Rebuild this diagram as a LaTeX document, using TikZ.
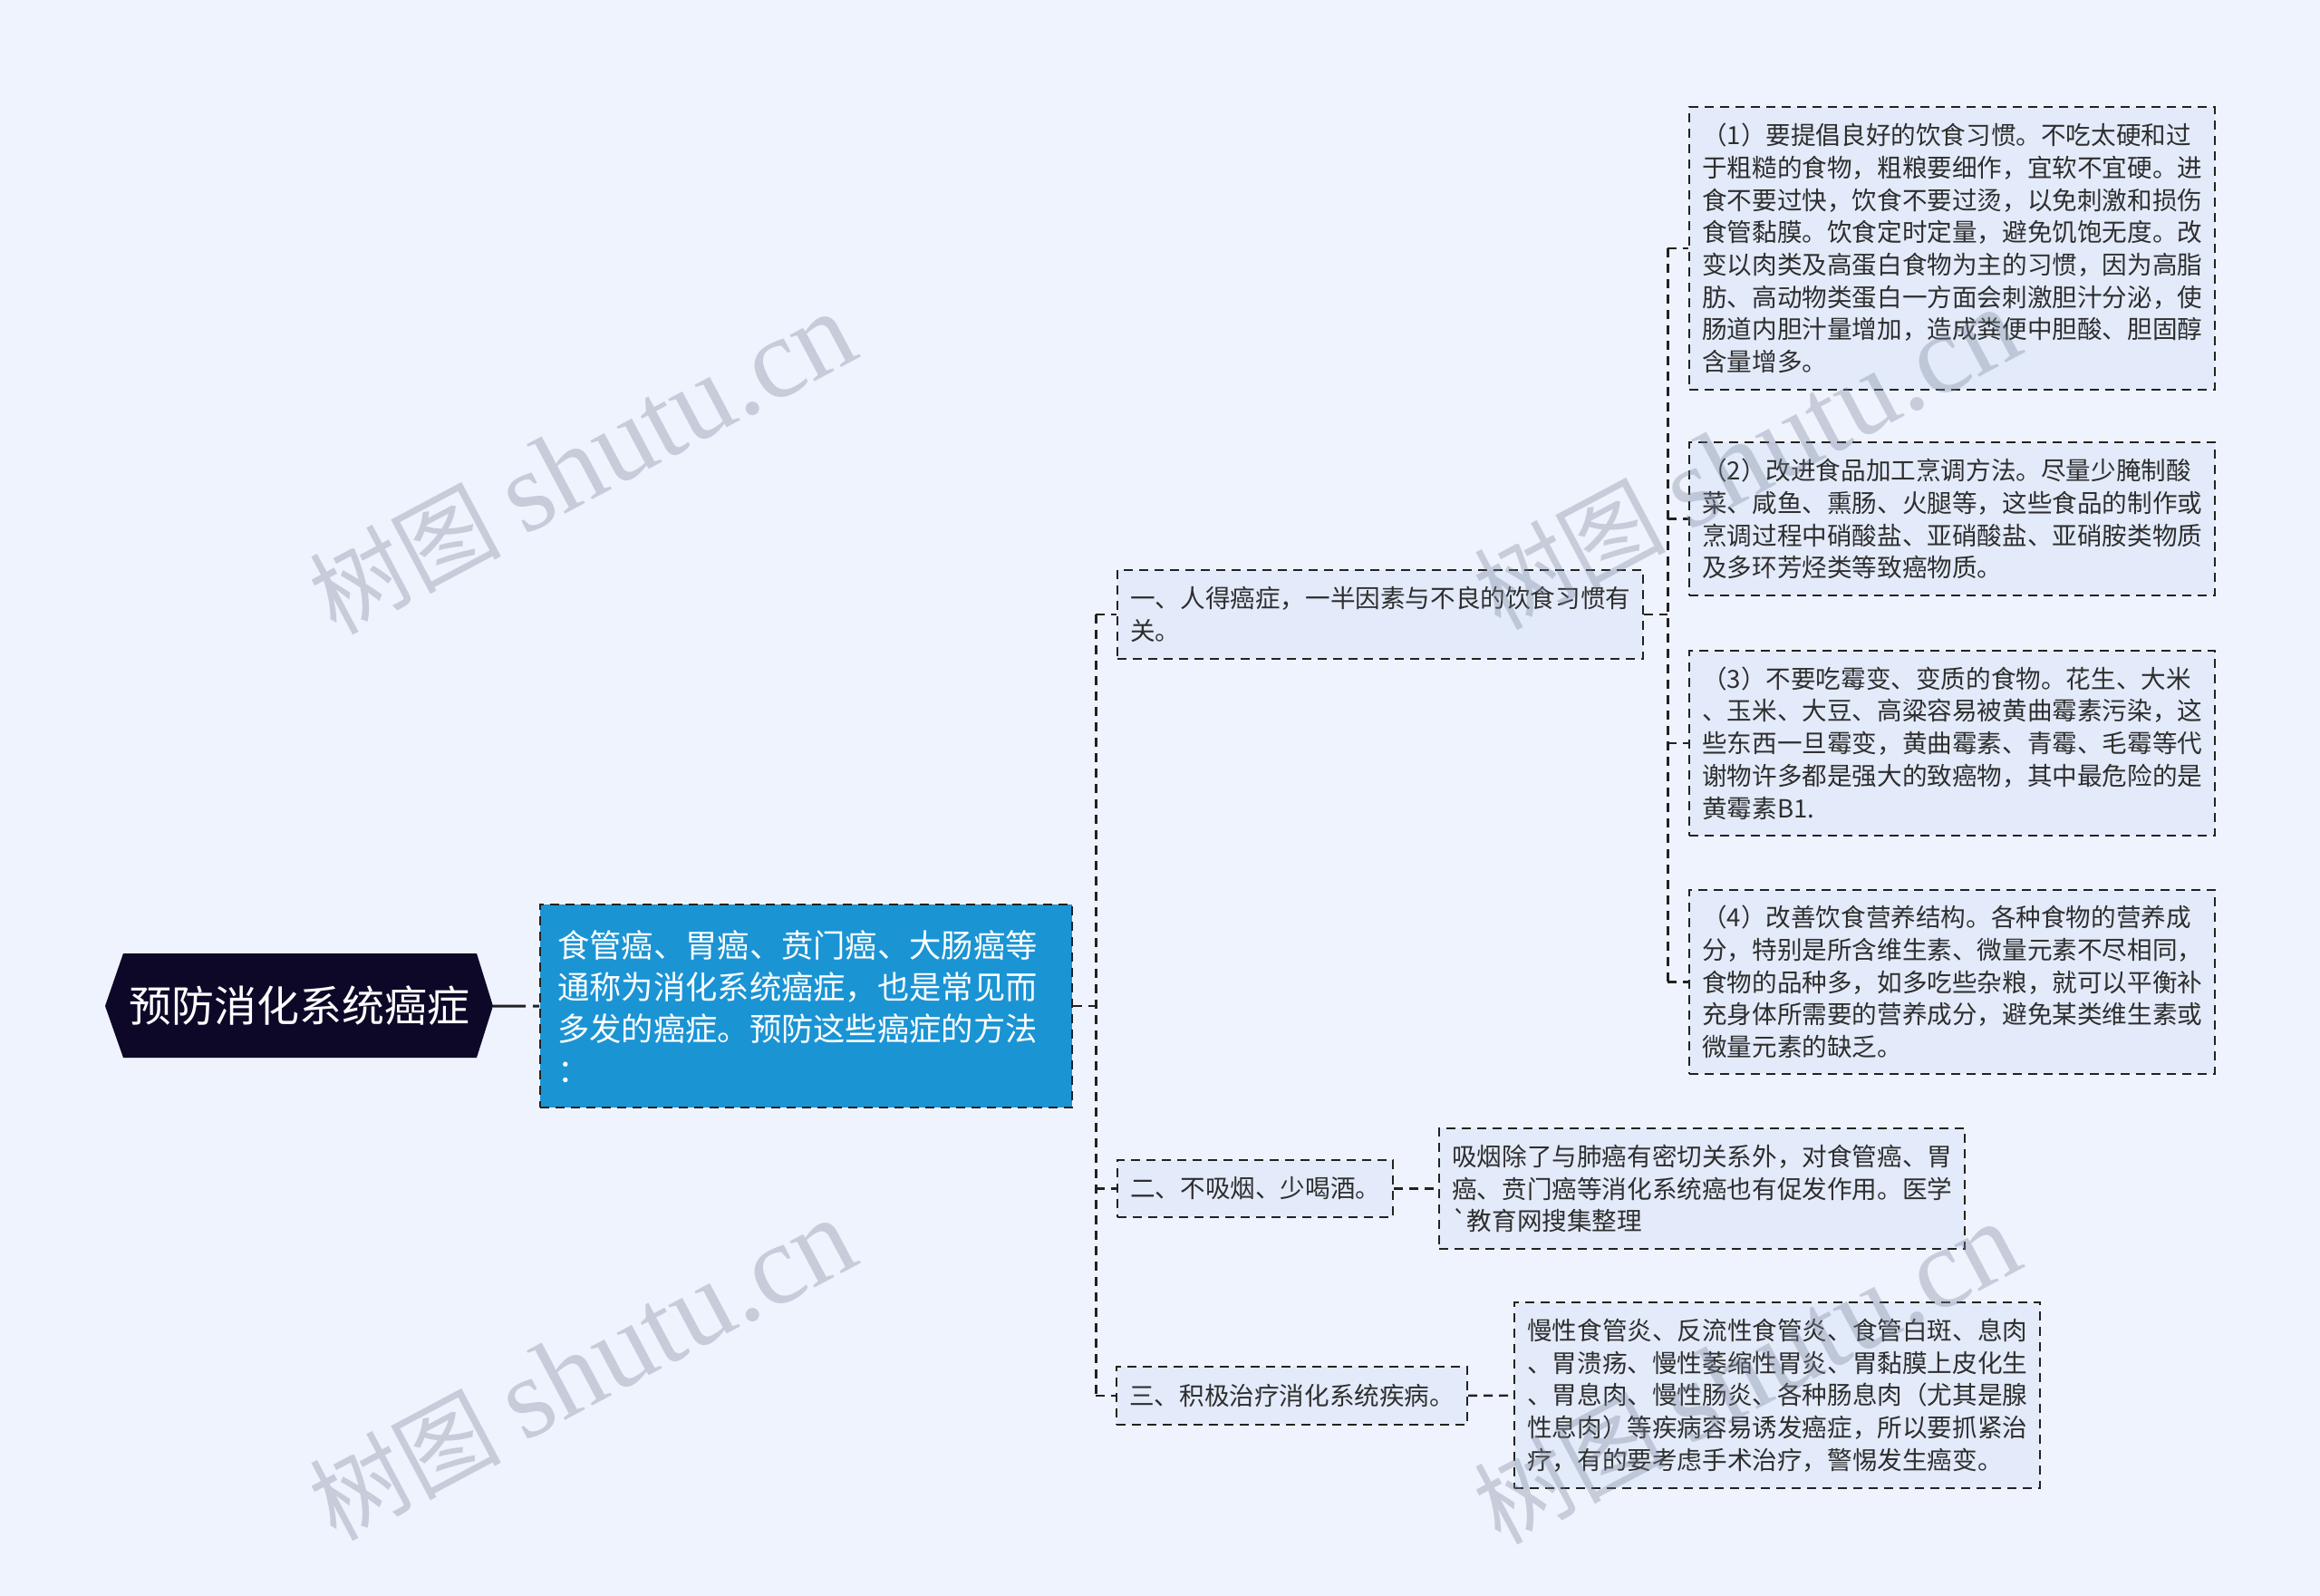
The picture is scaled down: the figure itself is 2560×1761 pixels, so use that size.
\documentclass[tikz,border=0pt]{standalone}
\usepackage{fontspec}
\newfontfamily\cnfont{Noto Sans CJK SC}
\newfontfamily\wmfont{Liberation Serif}
\usepackage{tikz}
\usetikzlibrary{calc}
\usetikzlibrary{positioning}

\definecolor{pagebg}{HTML}{EFF3FE}
\definecolor{leafbg}{HTML}{E3EBFA}
\definecolor{introbg}{HTML}{1B94D4}
\definecolor{rootbg}{HTML}{0D0828}
\definecolor{linecol}{HTML}{222222}
\definecolor{textcol}{HTML}{2E2E2E}
\definecolor{wmcol}{HTML}{7A8499}

\begin{document}
\begin{tikzpicture}[
		x=1pt,y=-1pt,
		rootbox/.style={inner sep=0pt,minimum width=390pt,minimum height=115pt,text=white,
			font=\cnfont\fontsize{47pt}{56pt}\selectfont},
		introbox/.style={draw=linecol,line width=2.4pt,dash pattern=on 10pt off 7pt,fill=introbg,
			text=white,align=left,text width=549pt,inner xsep=19pt,inner ysep=4pt,
			font=\cnfont\fontsize{35.3pt}{46pt}\selectfont},
		leaf/.style={draw=linecol,line width=2.4pt,dash pattern=on 10pt off 7pt,fill=leafbg,
			text=textcol,align=left,inner xsep=14pt,inner ysep=4pt,anchor=west,
			font=\cnfont\fontsize{27.6pt}{35.7pt}\selectfont},
		link/.style={draw=linecol,line width=2.4pt,dash pattern=on 10pt off 7pt},
		rootlink/.style={draw=linecol,line width=3pt,dash pattern=on 36pt off 8pt},
		wmark/.style={text=wmcol,opacity=0.35,anchor=base west,rotate=28,inner sep=0pt}
	]
		\useasboundingbox (0,0) rectangle (2560,1761);
		\fill[pagebg] (0,0) rectangle (2560,1761);

		% root
		\coordinate (rootc) at (330,1110);
		\fill[rootbg] ($(rootc)+(-214,0)$) -- ($(rootc)+(-194,-58)$) -- ($(rootc)+(196,-58)$)
			-- ($(rootc)+(214,0)$) -- ($(rootc)+(196,57)$) -- ($(rootc)+(-194,57)$) -- cycle;
		\node [rootbox] (root) at (rootc) {预防消化系统癌症};
		\coordinate (roottip) at ($(rootc)+(214,0)$);

		\node [introbox,anchor=north west,minimum width=587pt,minimum height=224pt] (intro) at (595,997)
			{食管癌、胃癌、贲门癌、大肠癌等\\通称为消化系统癌症，也是常见而\\多发的癌症。预防这些癌症的方法\\：};

		% first level
		\node [leaf,minimum height=98pt] (cause_diet) at (1232,678)
			{一、人得癌症，一半因素与不良的饮食习惯有\\关。};
		\node [leaf,minimum height=63pt] (cause_smoke) at (1232,1311.5)
			{二、不吸烟、少喝酒。};
		\node [leaf,minimum height=64pt] (cause_ill) at (1231,1540)
			{三、积极治疗消化系统疾病。};

		% diet
		\node [leaf,minimum height=312pt] (diet_habit) at (1863,274)
			{（1）要提倡良好的饮食习惯。不吃太硬和过\\于粗糙的食物，粗粮要细作，宜软不宜硬。进\\食不要过快，饮食不要过烫，以免刺激和损伤\\食管黏膜。饮食定时定量，避免饥饱无度。改\\变以肉类及高蛋白食物为主的习惯，因为高脂\\肪、高动物类蛋白一方面会刺激胆汁分泌，使\\肠道内胆汁量增加，造成粪便中胆酸、胆固醇\\含量增多。};
		\node [leaf,minimum height=169pt] (diet_cook) at (1863,572.5)
			{（2）改进食品加工烹调方法。尽量少腌制酸\\菜、咸鱼、熏肠、火腿等，这些食品的制作或\\烹调过程中硝酸盐、亚硝酸盐、亚硝胺类物质\\及多环芳烃类等致癌物质。};
		\node [leaf,minimum height=204pt] (diet_mould) at (1863,820)
			{（3）不要吃霉变、变质的食物。花生、大米\\、玉米、大豆、高粱容易被黄曲霉素污染，这\\些东西一旦霉变，黄曲霉素、青霉、毛霉等代\\谢物许多都是强大的致癌物，其中最危险的是\\黄霉素B1.};
		\node [leaf,minimum height=203pt] (diet_nutri) at (1863,1083.5)
			{（4）改善饮食营养结构。各种食物的营养成\\分，特别是所含维生素、微量元素不尽相同，\\食物的品种多，如多吃些杂粮，就可以平衡补\\充身体所需要的营养成分，避免某类维生素或\\微量元素的缺乏。};

		% smoke, illness
		\node [leaf,minimum height=133pt] (smoke_note) at (1587,1311.5)
			{吸烟除了与肺癌有密切关系外，对食管癌、胃\\癌、贲门癌等消化系统癌也有促发作用。医学\\`教育网搜集整理};
		\node [leaf,minimum height=205pt] (ill_note) at (1670,1539.5)
			{慢性食管炎、反流性食管炎、食管白斑、息肉\\、胃溃疡、慢性萎缩性胃炎、胃黏膜上皮化生\\、胃息肉、慢性肠炎、各种肠息肉（尤其是腺\\性息肉）等疾病容易诱发癌症，所以要抓紧治\\疗，有的要考虑手术治疗，警惕发生癌变。};

		% connectors
		\draw [rootlink] (roottip) -- (intro.west);

		\coordinate (hub) at ($(intro.east)+(25,0)$);
		\draw [link] (intro.east) -- (hub);
		\draw [link] (hub |- cause_diet.west) -- (hub |- cause_ill.west);
		\foreach \n in {cause_diet,cause_smoke,cause_ill}
			\draw [link] (hub |- \n.west) -- (\n.west);

		\coordinate (hub_diet) at ($(cause_diet.east)+(26,0)$);
		\draw [link] (cause_diet.east) -- (hub_diet);
		\draw [link] (hub_diet |- diet_habit.west) -- (hub_diet |- diet_nutri.west);
		\foreach \n in {diet_habit,diet_cook,diet_mould,diet_nutri}
			\draw [link] (hub_diet |- \n.west) -- (\n.west);

		\draw [link] (cause_smoke) -- (smoke_note);
		\draw [link] (cause_ill) -- (ill_note);

		% watermarks
		\foreach \wx/\wy [count=\i] in {370/702,370/1702,1655/697,1655/1706}
			\node [wmark] (wm\i) at (\wx,\wy)
				{\cnfont\fontsize{106pt}{120pt}\selectfont 树图 \wmfont\fontsize{126pt}{140pt}\selectfont shutu.cn};
	\end{tikzpicture}
\end{document}
